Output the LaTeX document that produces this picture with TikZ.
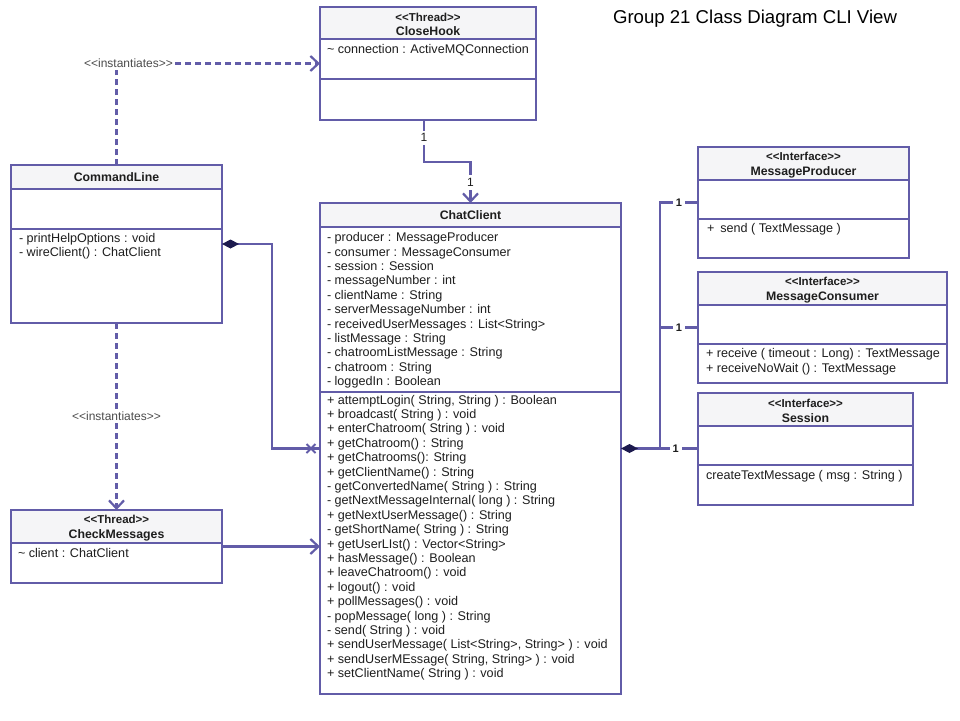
\documentclass[tikz,border=0pt]{standalone}
\usepackage{fontspec}
\setmainfont{Liberation Sans}[Ligatures=TeXOff]
\usetikzlibrary{arrows.meta,shapes.misc}
\definecolor{umlline}{RGB}{98,92,168}
\definecolor{umlhead}{RGB}{245,245,247}
\definecolor{umldiam}{RGB}{28,26,78}
\definecolor{umltext}{RGB}{30,30,30}
\newcommand{\stereo}[1]{{\fontsize{11.5}{14}\selectfont<<#1>>}\\}

\begin{document}
\begin{tikzpicture}[
      x=1pt, y=-1pt,
      every node/.style={inner sep=0pt, outer sep=0pt, text=umltext},
      classbox/.style={draw=umlline, line width=2.2pt, anchor=north west},
      divider/.style={draw=umlline, line width=2.2pt},
      head/.style={align=center, font=\fontsize{12.3}{14.5}\selectfont\bfseries},
      body/.style={anchor=north west, align=left, font=\fontsize{12.6}{14.4}\selectfont},
      assoc/.style={draw=umlline, line width=2.2pt},
      nav/.style={assoc, -{Straight Barb[length=8pt,width=15pt]}},
      dep/.style={nav, dash pattern=on 6pt off 4pt},
      comp/.style={assoc, {Diamond[length=17pt,width=9pt,color=umldiam]}-},
      num/.style={fill=white, inner sep=3pt, font=\fontsize{12}{14}\selectfont},
      stereolab/.style={fill=white, inner sep=2pt, text=black!70, font=\fontsize{12}{14}\selectfont},
      xmark/.style={cross out, draw=umlline, line width=1.8pt, minimum size=9pt}
    ]
\fill[white] (0,0) rectangle (960,720);
\useasboundingbox (0,0) rectangle (960,720);

% Headers
      \fill[umlhead] (320,7) rectangle (536,39);
      \fill[umlhead] (11,165) rectangle (222,189);
      \fill[umlhead] (11,510) rectangle (222,543);
      \fill[umlhead] (320,203) rectangle (621,227);
      \fill[umlhead] (698,147) rectangle (909,180);
      \fill[umlhead] (698,272) rectangle (947,305);
      \fill[umlhead] (698,393) rectangle (913,426);

% Classes
      \node[classbox, minimum width=216, minimum height=113] (closehook) at (320,7) {};
      \draw[divider] (320,39) -- (536,39) (320,79) -- (536,79);
      \node[head] (closehook-name) at (428,24.5) {\stereo{Thread}CloseHook};
      \node[body] (closehook-attr) at (327,44) {\textasciitilde{} connection : ActiveMQConnection};

      \node[classbox, minimum width=211, minimum height=158] (cmdline) at (11,165) {};
      \draw[divider] (11,189) -- (222,189) (11,229) -- (222,229);
      \node[head] (cmdline-name) at (116.5,177) {CommandLine};
      \node[body] (cmdline-ops) at (19,233) {- printHelpOptions : void\\- wireClient() : ChatClient};

      \node[classbox, minimum width=211, minimum height=73] (checkmsg) at (11,510) {};
      \draw[divider] (11,543) -- (222,543);
      \node[head] (checkmsg-name) at (116.5,528) {\stereo{Thread}CheckMessages};
      \node[body] (checkmsg-attr) at (18,548) {\textasciitilde{} client : ChatClient};

      \node[classbox, minimum width=301, minimum height=491] (chatclient) at (320,203) {};
      \draw[divider] (320,227) -- (621,227) (320,392) -- (621,392);
      \node[head] (chatclient-name) at (470.5,215) {ChatClient};
      \node[body] (chatclient-attr) at (327,232.5) {- producer : MessageProducer\\
      - consumer : MessageConsumer\\
      - session : Session\\
      - messageNumber : int\\
      - clientName : String\\
      - serverMessageNumber : int\\
      - receivedUserMessages : List<String>\\
      - listMessage : String\\
      - chatroomListMessage : String\\
      - chatroom : String\\
      - loggedIn : Boolean};
      \node[body] (chatclient-ops) at (327,395) {+ attemptLogin( String, String ) : Boolean\\
      + broadcast( String ) : void\\
      + enterChatroom( String ) : void\\
      + getChatroom() : String\\
      + getChatrooms(): String\\
      + getClientName() : String\\
      - getConvertedName( String ) : String\\
      - getNextMessageInternal( long ) : String\\
      + getNextUserMessage() : String\\
      - getShortName( String ) : String\\
      + getUserLIst() : Vector<String>\\
      + hasMessage() : Boolean\\
      + leaveChatroom() : void\\
      + logout() : void\\
      + pollMessages() : void\\
      - popMessage( long ) : String\\
      - send( String ) : void\\
      + sendUserMessage( List<String>, String> ) : void\\
      + sendUserMEssage( String, String> ) : void\\
      + setClientName( String ) : void};

      \node[classbox, minimum width=211, minimum height=111] (producer) at (698,147) {};
      \draw[divider] (698,180) -- (909,180) (698,219) -- (909,219);
      \node[head] (producer-name) at (803.5,165) {\stereo{Interface}MessageProducer};
      \node[body] (producer-ops) at (707,223.5) {+\hspace{6pt}send ( TextMessage )};

      \node[classbox, minimum width=249, minimum height=111] (consumer) at (698,272) {};
      \draw[divider] (698,305) -- (947,305) (698,344) -- (947,344);
      \node[head] (consumer-name) at (822.5,290) {\stereo{Interface}MessageConsumer};
      \node[body] (consumer-ops) at (706,348.5) {+ receive ( timeout : Long) : TextMessage\\
      + receiveNoWait () : TextMessage};

      \node[classbox, minimum width=215, minimum height=112] (session) at (698,393) {};
      \draw[divider] (698,426) -- (913,426) (698,465) -- (913,465);
      \node[head] (session-name) at (805.5,411) {\stereo{Interface}Session};
      \node[body] (session-ops) at (706,470.5) {createTextMessage ( msg : String )};

      \node[font=\fontsize{18.6}{22}\selectfont, text=black] (title) at (755,19) {Group 21 Class Diagram CLI View};

% Connections
      \draw[dep] (cmdline.north) |- node[stereolab, pos=0.5, xshift=12]{<<instantiates>>} (closehook.west);
      \draw[dep] (cmdline.south) -- node[stereolab]{<<instantiates>>} (checkmsg.north);
      \draw[nav] ([xshift=-4]closehook.south) -- node[num, pos=0.42]{1} ++(0,42)
        -| node[num, pos=0.75]{1} (chatclient.north);
      \draw[comp] (cmdline.east) -- ++(50,0) |- (chatclient.west);
      \node[xmark] (navx) at ([xshift=-9]chatclient.west) {};
      \draw[nav] (checkmsg.east) -- (chatclient.west |- checkmsg.east);

      \coordinate (hub) at ([xshift=39]chatclient.east);
      \draw[comp] (chatclient.east) -- node[num, pos=0.71, font=\fontsize{11}{13}\selectfont\bfseries]{1} (session.west |- chatclient.east);
      \draw[assoc] (hub) |- node[num, pos=0.75, font=\fontsize{11}{13}\selectfont\bfseries]{1} (producer.west);
      \draw[assoc] (hub |- consumer.west) -- node[num, font=\fontsize{11}{13}\selectfont\bfseries]{1} (consumer.west);

    \end{tikzpicture}
\end{document}
